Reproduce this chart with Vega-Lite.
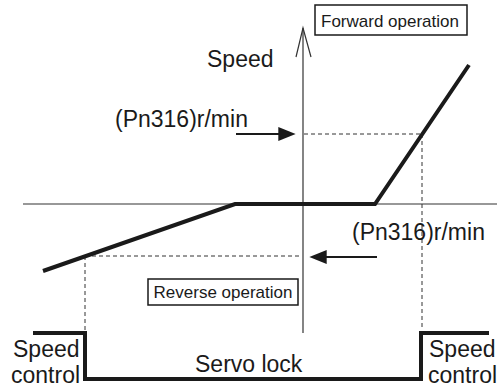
{
  "$schema": "https://vega.github.io/schema/vega-lite/v6.json",
  "width": 497,
  "height": 389,
  "autosize": {"type": "none"},
  "padding": 0,
  "background": "white",
  "config": {"view": {"stroke": null}},
  "datasets": {
    "lines": [
      {"seg": "haxis", "style": "thin", "i": 0, "x": -280, "y": 0},
      {"seg": "haxis", "style": "thin", "i": 1, "x": 194, "y": 0},
      {"seg": "vaxis", "style": "thin", "i": 0, "x": 0, "y": -129},
      {"seg": "vaxis", "style": "thin", "i": 1, "x": 0, "y": 176},
      {"seg": "head", "style": "thin", "i": 0, "x": -7, "y": 147},
      {"seg": "head", "style": "thin", "i": 1, "x": 0, "y": 176},
      {"seg": "head", "style": "thin", "i": 2, "x": 8, "y": 147},
      {"seg": "arrowF", "style": "arrow", "i": 0, "x": -67, "y": 70},
      {"seg": "arrowF", "style": "arrow", "i": 1, "x": -24, "y": 70},
      {"seg": "arrowR", "style": "arrow", "i": 0, "x": 20, "y": -53},
      {"seg": "arrowR", "style": "arrow", "i": 1, "x": 74, "y": -53},
      {"seg": "speed", "style": "thick", "i": 0, "x": -260, "y": -67},
      {"seg": "speed", "style": "thick", "i": 1, "x": -68, "y": 0},
      {"seg": "speed", "style": "thick", "i": 2, "x": 72, "y": 0},
      {"seg": "speed", "style": "thick", "i": 3, "x": 166, "y": 139},
      {"seg": "step", "style": "thick", "i": 0, "x": -270, "y": -129},
      {"seg": "step", "style": "thick", "i": 1, "x": -218, "y": -129},
      {"seg": "step", "style": "thick", "i": 2, "x": -218, "y": -175},
      {"seg": "step", "style": "thick", "i": 3, "x": 118, "y": -175},
      {"seg": "step", "style": "thick", "i": 4, "x": 118, "y": -129},
      {"seg": "step", "style": "thick", "i": 5, "x": 186, "y": -129},
      {"seg": "dF1", "style": "dash", "i": 0, "x": 1, "y": 70},
      {"seg": "dF1", "style": "dash", "i": 1, "x": 119, "y": 70},
      {"seg": "dF2", "style": "dash", "i": 0, "x": 119, "y": 70},
      {"seg": "dF2", "style": "dash", "i": 1, "x": 119, "y": -126},
      {"seg": "dR1", "style": "dash", "i": 0, "x": -218, "y": -52},
      {"seg": "dR1", "style": "dash", "i": 1, "x": -3, "y": -52},
      {"seg": "dR2", "style": "dash", "i": 0, "x": -218, "y": -52},
      {"seg": "dR2", "style": "dash", "i": 1, "x": -218, "y": -127}
    ],
    "boxes": [
      {"label": "Forward operation", "x1": 12, "x2": 164, "y1": 199, "y2": 169, "tx": 87, "ty": 177},
      {"label": "Reverse operation", "x1": -155, "x2": -5, "y1": -75, "y2": -101, "tx": -80, "ty": -94}
    ],
    "heads": [
      {"dir": "right", "x": -16, "y": 70},
      {"dir": "left", "x": 15, "y": -53}
    ],
    "labels": [
      {"label": "Speed", "x": -96, "y": 137},
      {"label": "(Pn316)r/min", "x": -188, "y": 77},
      {"label": "(Pn316)r/min", "x": 49, "y": -36},
      {"label": "Servo lock", "x": -108, "y": -168},
      {"label": "Speed", "x": -290, "y": -153},
      {"label": "control", "x": -292, "y": -179},
      {"label": "Speed", "x": 126, "y": -153},
      {"label": "control", "x": 125, "y": -179}
    ]
  },
  "encoding": {
    "x": {"type": "quantitative", "scale": {"domain": [-303, 194], "nice": false, "zero": false}, "axis": null},
    "y": {"type": "quantitative", "scale": {"domain": [-185, 204], "nice": false, "zero": false}, "axis": null}
  },
  "layer": [
    {
      "data": {"name": "lines"},
      "transform": [{"filter": "datum.style === 'thin'"}],
      "mark": {"type": "line", "stroke": "#333333", "strokeWidth": 1.2},
      "encoding": {"x": {"field": "x"}, "y": {"field": "y"}, "detail": {"field": "seg"}, "order": {"field": "i"}}
    },
    {
      "data": {"name": "lines"},
      "transform": [{"filter": "datum.style === 'dash'"}],
      "mark": {"type": "line", "stroke": "#333333", "strokeWidth": 1, "strokeDash": [4, 3]},
      "encoding": {"x": {"field": "x"}, "y": {"field": "y"}, "detail": {"field": "seg"}, "order": {"field": "i"}}
    },
    {
      "data": {"name": "lines"},
      "transform": [{"filter": "datum.style === 'arrow'"}],
      "mark": {"type": "line", "stroke": "#1a1a1a", "strokeWidth": 2},
      "encoding": {"x": {"field": "x"}, "y": {"field": "y"}, "detail": {"field": "seg"}, "order": {"field": "i"}}
    },
    {
      "data": {"name": "lines"},
      "transform": [{"filter": "datum.style === 'thick'"}],
      "mark": {"type": "line", "stroke": "#1a1a1a", "strokeWidth": 4, "strokeJoin": "miter", "strokeCap": "butt"},
      "encoding": {"x": {"field": "x"}, "y": {"field": "y"}, "detail": {"field": "seg"}, "order": {"field": "i"}}
    },
    {
      "data": {"name": "heads"},
      "transform": [{"filter": "datum.dir === 'right'"}],
      "mark": {"type": "point", "shape": "M-1,-0.8L1,0L-1,0.8Z", "size": 300, "filled": true, "fill": "#1a1a1a", "opacity": 1, "strokeWidth": 0},
      "encoding": {"x": {"field": "x"}, "y": {"field": "y"}}
    },
    {
      "data": {"name": "heads"},
      "transform": [{"filter": "datum.dir === 'left'"}],
      "mark": {"type": "point", "shape": "M1,-0.8L-1,0L1,0.8Z", "size": 300, "filled": true, "fill": "#1a1a1a", "opacity": 1, "strokeWidth": 0},
      "encoding": {"x": {"field": "x"}, "y": {"field": "y"}}
    },
    {
      "data": {"name": "boxes"},
      "mark": {"type": "rect", "fill": "white", "stroke": "#1a1a1a", "strokeWidth": 1.5},
      "encoding": {"x": {"field": "x1"}, "x2": {"field": "x2"}, "y": {"field": "y1"}, "y2": {"field": "y2"}}
    },
    {
      "data": {"name": "boxes"},
      "mark": {"type": "text", "align": "center", "baseline": "alphabetic", "font": "Liberation Sans", "fontSize": 17, "fill": "#1a1a1a"},
      "encoding": {"x": {"field": "tx"}, "y": {"field": "ty"}, "text": {"field": "label"}}
    },
    {
      "data": {"name": "labels"},
      "mark": {"type": "text", "align": "left", "baseline": "alphabetic", "font": "Liberation Sans", "fontSize": 23, "fill": "#1a1a1a"},
      "encoding": {"x": {"field": "x"}, "y": {"field": "y"}, "text": {"field": "label"}}
    }
  ]
}
